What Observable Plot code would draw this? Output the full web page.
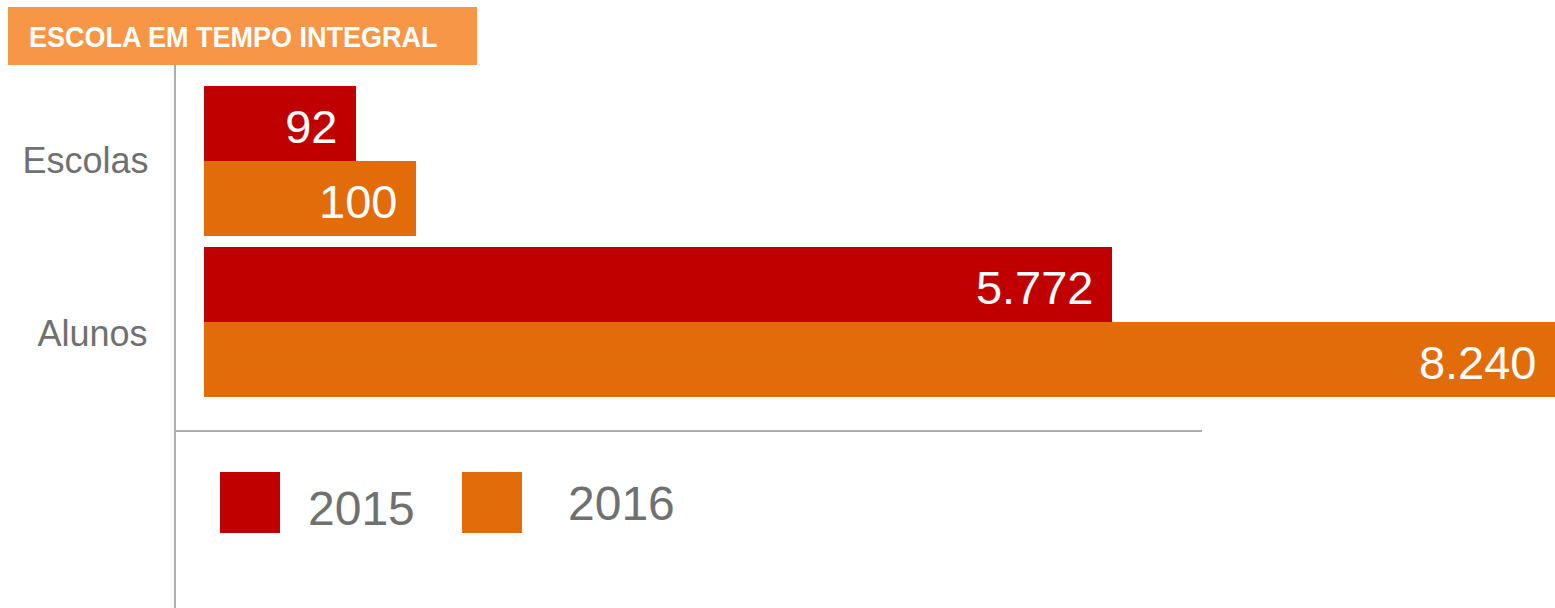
<!DOCTYPE html>
<html><head><meta charset="utf-8">
<script src="https://cdn.jsdelivr.net/npm/d3@7"></script>
<script src="https://cdn.jsdelivr.net/npm/@observablehq/plot@0.6"></script>
<style>
body{margin:0;background:#fff;width:1555px;height:608px;overflow:hidden;position:relative;font-family:"Liberation Sans",Arial,sans-serif;}
#title{position:absolute;left:8px;top:7px;width:469px;height:58px;background:#F79646;overflow:hidden;}
#title span{position:absolute;left:21px;top:1px;color:#fff;font-family:"Liberation Sans",Arial,sans-serif;font-weight:bold;font-size:30px;line-height:58px;white-space:nowrap;transform:scaleX(0.9);transform-origin:0 50%;}
#vline{position:absolute;left:174px;top:65px;width:2px;height:543px;background:#ADADAD;}
#hline{position:absolute;left:175px;top:430px;width:1027px;height:2px;background:#ADADAD;}
#chart{position:absolute;left:0;top:65px;}
.sw{position:absolute;width:60px;height:61px;top:472px;}
.lt{position:absolute;font-size:48px;color:#707070;line-height:1;}
</style></head><body>
<div id="title"><span></span></div>
<div id="chart"></div>
<div id="vline"></div>
<div id="hline"></div>
<div id="legend"></div>
<script>
const titleText = "ESCOLA EM TEMPO INTEGRAL";
const categories = ["Escolas", "Alunos"];
const years = ["2015", "2016"];
const values2015 = [92, 5772];
const values2016 = [100, 8240];
const colors = ["#C00000", "#E36C0A"];

document.querySelector("#title span").textContent = titleText;

const rows = categories.flatMap((c, i) => [
  {category: c, year: years[0], value: values2015[i]},
  {category: c, year: years[1], value: values2016[i]}
]);
const fmt = d3.formatLocale({decimal: ",", thousands: ".", grouping: [3], currency: ["R$", ""]}).format(",d");

// the reference draws its bars on a broken (piecewise) scale: data values -> display units
const brokenScale = d3.scaleLinear()
  .domain([0, values2015[0], values2016[0], values2015[1], values2016[1]])
  .range([0, 152, 212, 908, 1351]);

const chart = Plot.plot({
  width: 1555,
  height: 375,
  marginLeft: 204,
  marginRight: 0,
  marginTop: 21,
  marginBottom: 42,
  style: {fontFamily: "'Liberation Sans', Arial, sans-serif", color: "#707070", background: "transparent"},
  x: {transform: v => brokenScale(v), domain: [0, 1351], axis: null},
  fy: {domain: categories, paddingInner: 0.068, paddingOuter: 0, label: null},
  y: {domain: years, padding: 0, axis: null},
  color: {domain: years, range: colors},
  marks: [
    Plot.barX(rows, {fy: "category", y: "year", x: "value", fill: "year"}),
    Plot.text(rows, {fy: "category", y: "year", x: "value", text: d => fmt(d.value), textAnchor: "end", dx: -19, dy: 4, fill: "white", fontSize: 47}),
    Plot.axisFy({ticks: [categories[0]], anchor: "left", tickSize: 0, tickPadding: 56, fontSize: 36, label: null}),
    Plot.axisFy({ticks: [categories[1]], anchor: "left", tickSize: 0, tickPadding: 57, fontSize: 36, dy: 12, label: null})
  ]
});
document.getElementById("chart").appendChild(chart);

// legend
const legend = document.getElementById("legend");
const swLeft = [220, 462];
const txtLeft = [308, 568];
const txtTop = [485, 480];
years.forEach((y, i) => {
  const sw = document.createElement("div");
  sw.className = "sw";
  sw.style.left = swLeft[i] + "px";
  sw.style.background = colors[i];
  legend.appendChild(sw);
  const t = document.createElement("div");
  t.className = "lt";
  t.style.left = txtLeft[i] + "px";
  t.style.top = txtTop[i] + "px";
  t.textContent = y;
  legend.appendChild(t);
});
</script>
</body></html>
